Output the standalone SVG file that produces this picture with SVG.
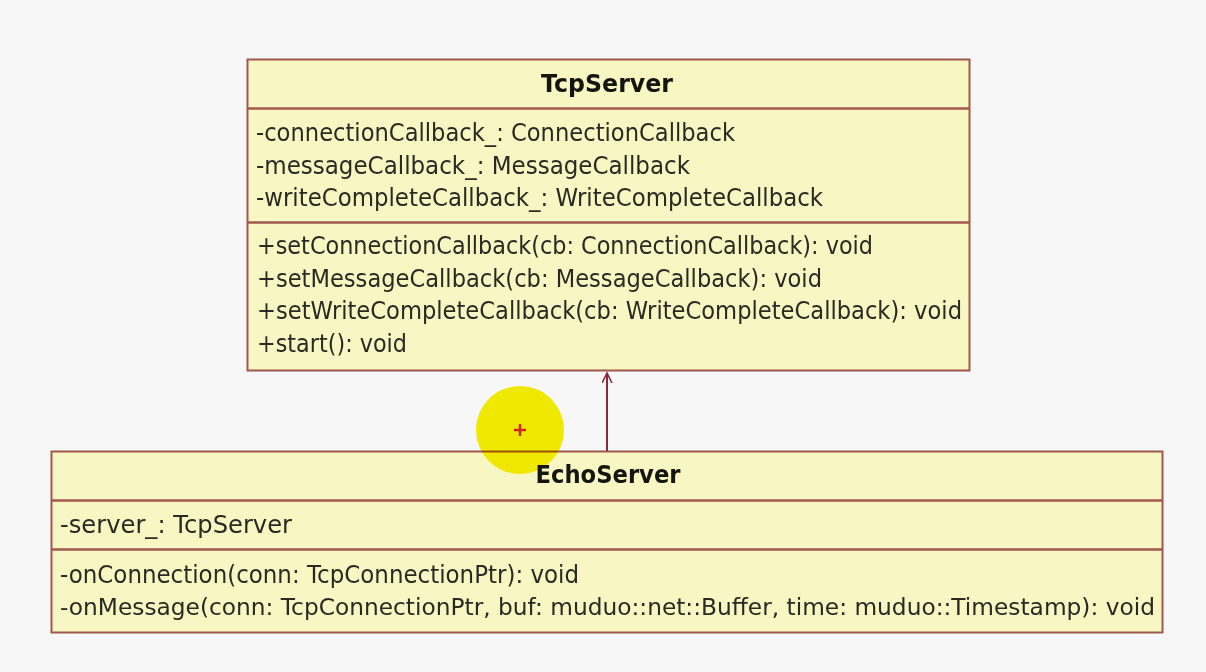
<svg xmlns="http://www.w3.org/2000/svg" width="1206" height="672" viewBox="0 0 1206 672">
<style>
.box{fill:#f8f6c2;stroke:#a0584e;stroke-width:2}
.div{stroke:#a0584e;stroke-width:2.5}
.t{font-family:"DejaVu Sans","Liberation Sans",sans-serif;font-size:25px;fill:#2a2a22}
.b{font-weight:bold;text-anchor:middle;fill:#151510}
.conn{stroke:#8a2a3a;stroke-width:2;fill:none}
</style>
<defs>
<marker id="open" markerWidth="12" markerHeight="14" refX="10" refY="5" orient="auto" markerUnits="userSpaceOnUse">
<path d="M0,0 L10,5 L0,10" fill="none" stroke="#8a2a3a" stroke-width="1.6"/>
</marker>
</defs>
<rect width="1206" height="672" fill="#f7f7f7"/>
<g id="TcpServer">
<rect class="box" x="247.5" y="59.5" width="722" height="311"/>
<line class="div" x1="247.5" y1="108.5" x2="969.5" y2="108.5"/>
<line class="div" x1="247.5" y1="222.5" x2="969.5" y2="222.5"/>
<text class="t b" x="607" y="92" textLength="132" lengthAdjust="spacingAndGlyphs">TcpServer</text>
<text class="t" x="256" y="141" textLength="479" lengthAdjust="spacingAndGlyphs">-connectionCallback_: ConnectionCallback</text>
<text class="t" x="256" y="173.5" textLength="434" lengthAdjust="spacingAndGlyphs">-messageCallback_: MessageCallback</text>
<text class="t" x="256" y="206" textLength="567" lengthAdjust="spacingAndGlyphs">-writeCompleteCallback_: WriteCompleteCallback</text>
<text class="t" x="257" y="254" textLength="616" lengthAdjust="spacingAndGlyphs">+setConnectionCallback(cb: ConnectionCallback): void</text>
<text class="t" x="257" y="286.5" textLength="565" lengthAdjust="spacingAndGlyphs">+setMessageCallback(cb: MessageCallback): void</text>
<text class="t" x="257" y="319" textLength="705" lengthAdjust="spacingAndGlyphs">+setWriteCompleteCallback(cb: WriteCompleteCallback): void</text>
<text class="t" x="257" y="351.5" textLength="150" lengthAdjust="spacingAndGlyphs">+start(): void</text>
</g>
<g id="EchoServer">
<rect class="box" x="51.5" y="451.5" width="1111" height="181"/>
<line class="div" x1="51.5" y1="500.5" x2="1162.5" y2="500.5"/>
<line class="div" x1="51.5" y1="549.5" x2="1162.5" y2="549.5"/>
<text class="t b" x="608" y="483" textLength="145" lengthAdjust="spacingAndGlyphs">EchoServer</text>
<text class="t" x="60" y="533" textLength="232" lengthAdjust="spacingAndGlyphs">-server_: TcpServer</text>
<text class="t" x="60" y="583" textLength="519" lengthAdjust="spacingAndGlyphs">-onConnection(conn: TcpConnectionPtr): void</text>
<text class="t" x="60" y="615" style="font-size:23.5px" textLength="1095" lengthAdjust="spacingAndGlyphs">-onMessage(conn: TcpConnectionPtr, buf: muduo::net::Buffer, time: muduo::Timestamp): void</text>
</g>
<g id="connectors">
<line class="conn" x1="607" y1="451" x2="607" y2="373" marker-end="url(#open)"/>
</g>
<g id="cursor" style="mix-blend-mode:multiply">
<circle cx="520" cy="430" r="44" fill="#f7f000"/>
<path d="M514,430 H526 M520,424 V436" stroke="#d8262a" stroke-width="2.5"/>
</g>
</svg>
